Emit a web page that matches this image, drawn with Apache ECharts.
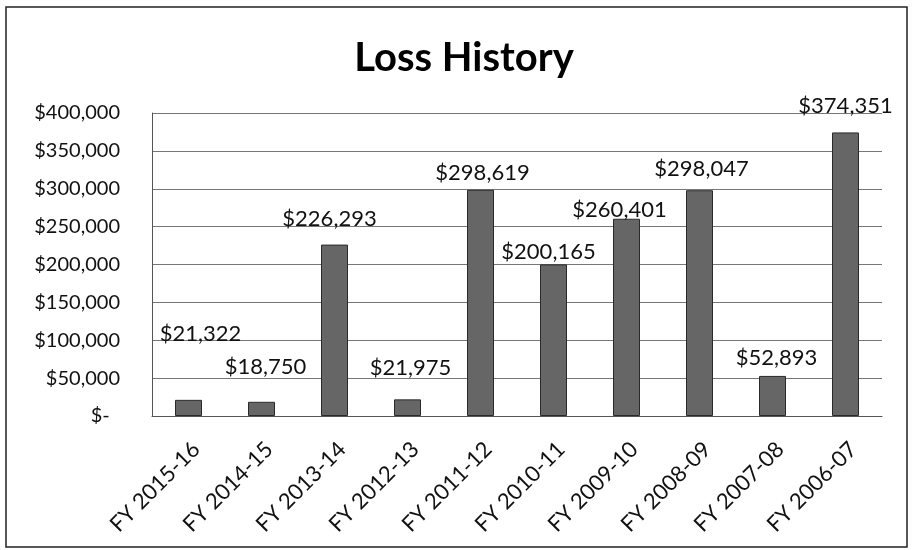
<!DOCTYPE html>
<html>
<head>
<meta charset="utf-8">
<script src="https://cdn.jsdelivr.net/npm/echarts@6/dist/echarts.min.js"></script>
<style>
  html, body { margin: 0; padding: 0; background: #ffffff; }
  #chart { width: 912px; height: 550px; }
</style>
</head>
<body>
<div id="chart"></div>
<script>
// ---- data ----
const categories = ['FY 2015-16', 'FY 2014-15', 'FY 2013-14', 'FY 2012-13', 'FY 2011-12',
                    'FY 2010-11', 'FY 2009-10', 'FY 2008-09', 'FY 2007-08', 'FY 2006-07'];
const lossValues = [21322, 18750, 226293, 21975, 298619, 200165, 260401, 298047, 52893, 374351];
const yTicks = [0, 50000, 100000, 150000, 200000, 250000, 300000, 350000, 400000];
const chartTitle = 'Loss History';

// ---- label styling (pixel nudges of the value labels, as placed in the original) ----
const labelNudge = [[12, -50], [4, -19], [-5, -10], [3, -15], [2, -1],
                    [-5, 4], [-7, 7], [2, -5], [4, -2], [0, -11]];

const fmtMoney = v => v === 0 ? '$-  ' : '$' + v.toLocaleString('en-US');

const chart = echarts.init(document.getElementById('chart'), null, { renderer: 'canvas' });
const FONT = 'Lato, "Open Sans", sans-serif';

chart.setOption({
  backgroundColor: '#ffffff',
  animation: false,
  title: {
    text: chartTitle,
    left: 459, textAlign: 'center',
    top: 33,
    textStyle: { fontFamily: FONT, fontWeight: 'bold', fontSize: 40, color: '#000' }
  },
  graphic: [{
    type: 'rect', silent: true,
    shape: { x: 6, y: 7, width: 901, height: 540 },
    style: { fill: 'none', stroke: '#222', lineWidth: 1.5 }
  }],
  grid: { left: 152, right: 30, top: 113, bottom: 134, containLabel: false },
  xAxis: {
    type: 'category',
    data: categories,
    axisLine: { show: true, lineStyle: { color: '#555', width: 1 } },
    axisTick: { show: false },
    axisLabel: {
      rotate: 45, margin: 22, interval: 0,
      align: 'right', verticalAlign: 'top',
      fontFamily: FONT, fontSize: 22, color: '#111'
    }
  },
  yAxis: {
    type: 'value',
    min: yTicks[0], max: yTicks[yTicks.length - 1], interval: yTicks[1] - yTicks[0],
    axisLine: { show: true, lineStyle: { color: '#555', width: 1 } },
    axisTick: { show: false },
    splitLine: { show: true, lineStyle: { color: '#777', width: 1 } },
    axisLabel: {
      margin: 32, fontFamily: FONT, fontSize: 20, color: '#111',
      formatter: fmtMoney
    }
  },
  series: [{
    type: 'bar',
    barWidth: 27,
    data: lossValues.map((v, i) => ({
      value: v,
      label: { offset: labelNudge[i] }
    })),
    itemStyle: { color: '#666666', borderColor: '#2a2a2a', borderWidth: 1 },
    label: {
      show: true, position: 'top', distance: 5,
      fontFamily: FONT, fontSize: 22, color: '#111',
      formatter: p => fmtMoney(p.value)
    }
  }]
});
</script>
</body>
</html>
